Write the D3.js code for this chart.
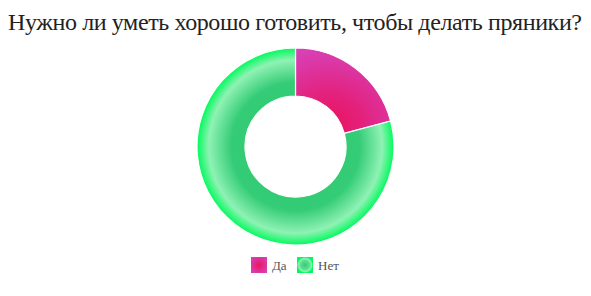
<!DOCTYPE html>
<html><head><meta charset="utf-8">
<script src="https://cdn.jsdelivr.net/npm/d3@7"></script>
<style>html,body{margin:0;padding:0;background:#fff;}svg{display:block;}</style>
</head><body>
<svg id="c" width="591" height="296"></svg>
<script>
const title = "Нужно ли уметь хорошо готовить, чтобы делать пряники?";
const categories = ["Да", "Нет"];
const values = [5, 19];

const svg = d3.select("#c");
const defs = svg.append("defs");

const gPink = defs.append("radialGradient").attr("id","g0").attr("cx","0.35").attr("cy","0.9").attr("r","0.9");
gPink.append("stop").attr("offset","0").attr("stop-color","#ec1260");
gPink.append("stop").attr("offset","0.35").attr("stop-color","#e41f78");
gPink.append("stop").attr("offset","1").attr("stop-color","#d840b6");

const gGreen = defs.append("radialGradient").attr("id","g1").attr("cx","0.5").attr("cy","0.5").attr("r","0.5");
gGreen.append("stop").attr("offset","0").attr("stop-color","#2ec86e");
gGreen.append("stop").attr("offset","0.65").attr("stop-color","#34cc76");
gGreen.append("stop").attr("offset","0.88").attr("stop-color","#8ff2b4");
gGreen.append("stop").attr("offset","1").attr("stop-color","#00fa5c");

const gLegPink = defs.append("radialGradient").attr("id","l0").attr("cx","0.5").attr("cy","0.5").attr("r","0.6");
gLegPink.append("stop").attr("offset","0").attr("stop-color","#ea1462");
gLegPink.append("stop").attr("offset","1").attr("stop-color","#d93fb4");
const gLegGreen = defs.append("radialGradient").attr("id","l1").attr("cx","0.5").attr("cy","0.5").attr("r","0.5");
gLegGreen.append("stop").attr("offset","0").attr("stop-color","#34cc76");
gLegGreen.append("stop").attr("offset","0.6").attr("stop-color","#60e090");
gLegGreen.append("stop").attr("offset","0.8").attr("stop-color","#90f4b6");
gLegGreen.append("stop").attr("offset","1").attr("stop-color","#00fa5c");

svg.append("text")
  .attr("x", 8).attr("y", 30)
  .attr("font-family", "Liberation Serif, serif")
  .attr("font-size", 24)
  .attr("fill", "#222")
  .attr("textLength", 574)
  .attr("lengthAdjust", "spacing")
  .text(title);

const cx = 295.5, cy = 146.5, R = 98.5, r = 50.5;
const pie = d3.pie().sort(null).value(d => d)(values);
const arc = d3.arc().innerRadius(r).outerRadius(R);
const g = svg.append("g").attr("transform", `translate(${cx},${cy})`);
g.selectAll("path").data(pie).enter().append("path")
  .attr("d", arc)
  .attr("fill", (d,i) => `url(#g${i})`)
  .attr("stroke", "#fff").attr("stroke-width", 1.2);

const legX = [251, 297];
const leg = svg.append("g");
categories.forEach((c, i) => {
  leg.append("rect").attr("x", legX[i]).attr("y", 257).attr("width", 16).attr("height", 16)
    .attr("fill", `url(#l${i})`);
  leg.append("text").attr("x", legX[i] + 21).attr("y", 270)
    .attr("font-family", "Liberation Serif, serif").attr("font-size", 13)
    .attr("fill", "#555").text(c);
});
</script>
</body></html>
